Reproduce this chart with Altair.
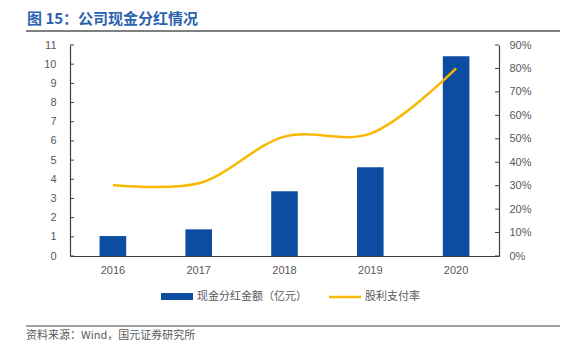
import altair as alt
import pandas as pd

years = ["2016", "2017", "2018", "2019", "2020"]
dividend = [1.04, 1.39, 3.38, 4.63, 10.42]
payout = [0.303, 0.31, 0.509, 0.522, 0.80]
left_ticks = list(range(0, 12))
right_ticks = [i / 10 for i in range(0, 10)]
title_text = ["图 15：公司现金分红情况"]
legend_labels = ["现金分红金额（亿元）", "股利支付率"]
source_text = ["资料来源：Wind，国元证券研究所"]

BLUE = "#0C4DA2"
GOLD = "#F9B800"
TITLE = "#2D62AE"
GRAY = "#595959"
AX = "#404040"
CJK = "Noto Sans CJK SC"
LAT = "Liberation Sans"

W, H = 429, 211

df = pd.DataFrame({"year": years, "amount": dividend, "ratio": payout})

xenc = alt.X(
    "year:N",
    scale=alt.Scale(paddingInner=0.69, paddingOuter=0.345),
    axis=alt.Axis(title=None, labelAngle=0, ticks=False, labelPadding=8,
                  labelFont=LAT, labelFontSize=11, labelColor=GRAY,
                  domainColor=AX, domainWidth=1),
)

yleft_scale = alt.Scale(domain=[0, 11], nice=False, zero=True)
yright_scale = alt.Scale(domain=[0, 0.9], nice=False, zero=True)

left_axis = alt.Axis(title=None, values=left_ticks, grid=False, ticks=False,
                     labelOverlap=False, labelFlush=False,
                     labelPadding=14, labelFont=LAT, labelFontSize=11,
                     labelColor=GRAY, domainColor=AX, domainWidth=1.2)
right_axis = alt.Axis(title=None, orient="right", format=".0%", values=right_ticks,
                      labelOverlap=False, labelFlush=False,
                      grid=False, ticks=False, labelPadding=10, labelFont=LAT,
                      labelFontSize=11, labelColor=GRAY, domainColor=AX,
                      domainWidth=1.2)

bars = alt.Chart(df).mark_bar(color=BLUE).encode(
    x=xenc,
    y=alt.Y("amount:Q", scale=yleft_scale, axis=left_axis),
)
lt = alt.Chart(pd.DataFrame({"v": left_ticks})).mark_rule(color=AX, strokeWidth=1).encode(
    y=alt.Y("v:Q", scale=yleft_scale, axis=left_axis), x=alt.value(0), x2=alt.value(4)
)

line = alt.Chart(df).mark_line(color=GOLD, strokeWidth=2.5,
                               interpolate="catmull-rom").encode(
    x=xenc,
    y=alt.Y("ratio:Q", scale=yright_scale, axis=right_axis),
)
rt = alt.Chart(pd.DataFrame({"v": right_ticks})).mark_rule(color=AX, strokeWidth=1).encode(
    y=alt.Y("v:Q", scale=yright_scale, axis=right_axis), x=alt.value(W - 4), x2=alt.value(W)
)

def txt(values, x, y, size, color, font, weight="normal"):
    return alt.Chart(pd.DataFrame({"t": values})).mark_text(
        align="left", baseline="middle", fontSize=size, color=color, font=font,
        fontWeight=weight,
    ).encode(text="t:N", x=alt.value(x), y=alt.value(y))

title = txt(title_text, -43, -26, 15, TITLE, CJK, "bold")
top_rule = alt.Chart(pd.DataFrame({"a": [0]})).mark_rule(color="#808080", strokeWidth=2).encode(
    x=alt.value(-44), x2=alt.value(490), y=alt.value(-14)
)
bottom_rule = alt.Chart(pd.DataFrame({"a": [0]})).mark_rule(color="#808080", strokeWidth=1.5).encode(
    x=alt.value(-44), x2=alt.value(490), y=alt.value(281)
)
source = txt(source_text, -44, 291, 11, GRAY, CJK)

leg_rect = alt.Chart(pd.DataFrame({"a": [0]})).mark_rect(color=BLUE).encode(
    x=alt.value(91), x2=alt.value(123), y=alt.value(248), y2=alt.value(255)
)
leg_t1 = txt([legend_labels[0]], 127, 252, 11, GRAY, CJK)
leg_line = alt.Chart(pd.DataFrame({"a": [0]})).mark_rule(color=GOLD, strokeWidth=2.5).encode(
    x=alt.value(259), x2=alt.value(291), y=alt.value(252)
)
leg_t2 = txt([legend_labels[1]], 295, 252, 11, GRAY, CJK)

chart = alt.layer(
    alt.layer(bars, lt),
    alt.layer(line, rt),
    title, top_rule, bottom_rule, source, leg_rect, leg_t1, leg_line, leg_t2,
).resolve_scale(y="independent").properties(
    width=W, height=H,
    autosize=alt.AutoSizeParams(type="none"),
    padding={"left": 62, "top": 37, "right": 61, "bottom": 98},
).configure_view(stroke=None)

chart.save("out.html", embed_options={"renderer": "svg", "actions": False})
